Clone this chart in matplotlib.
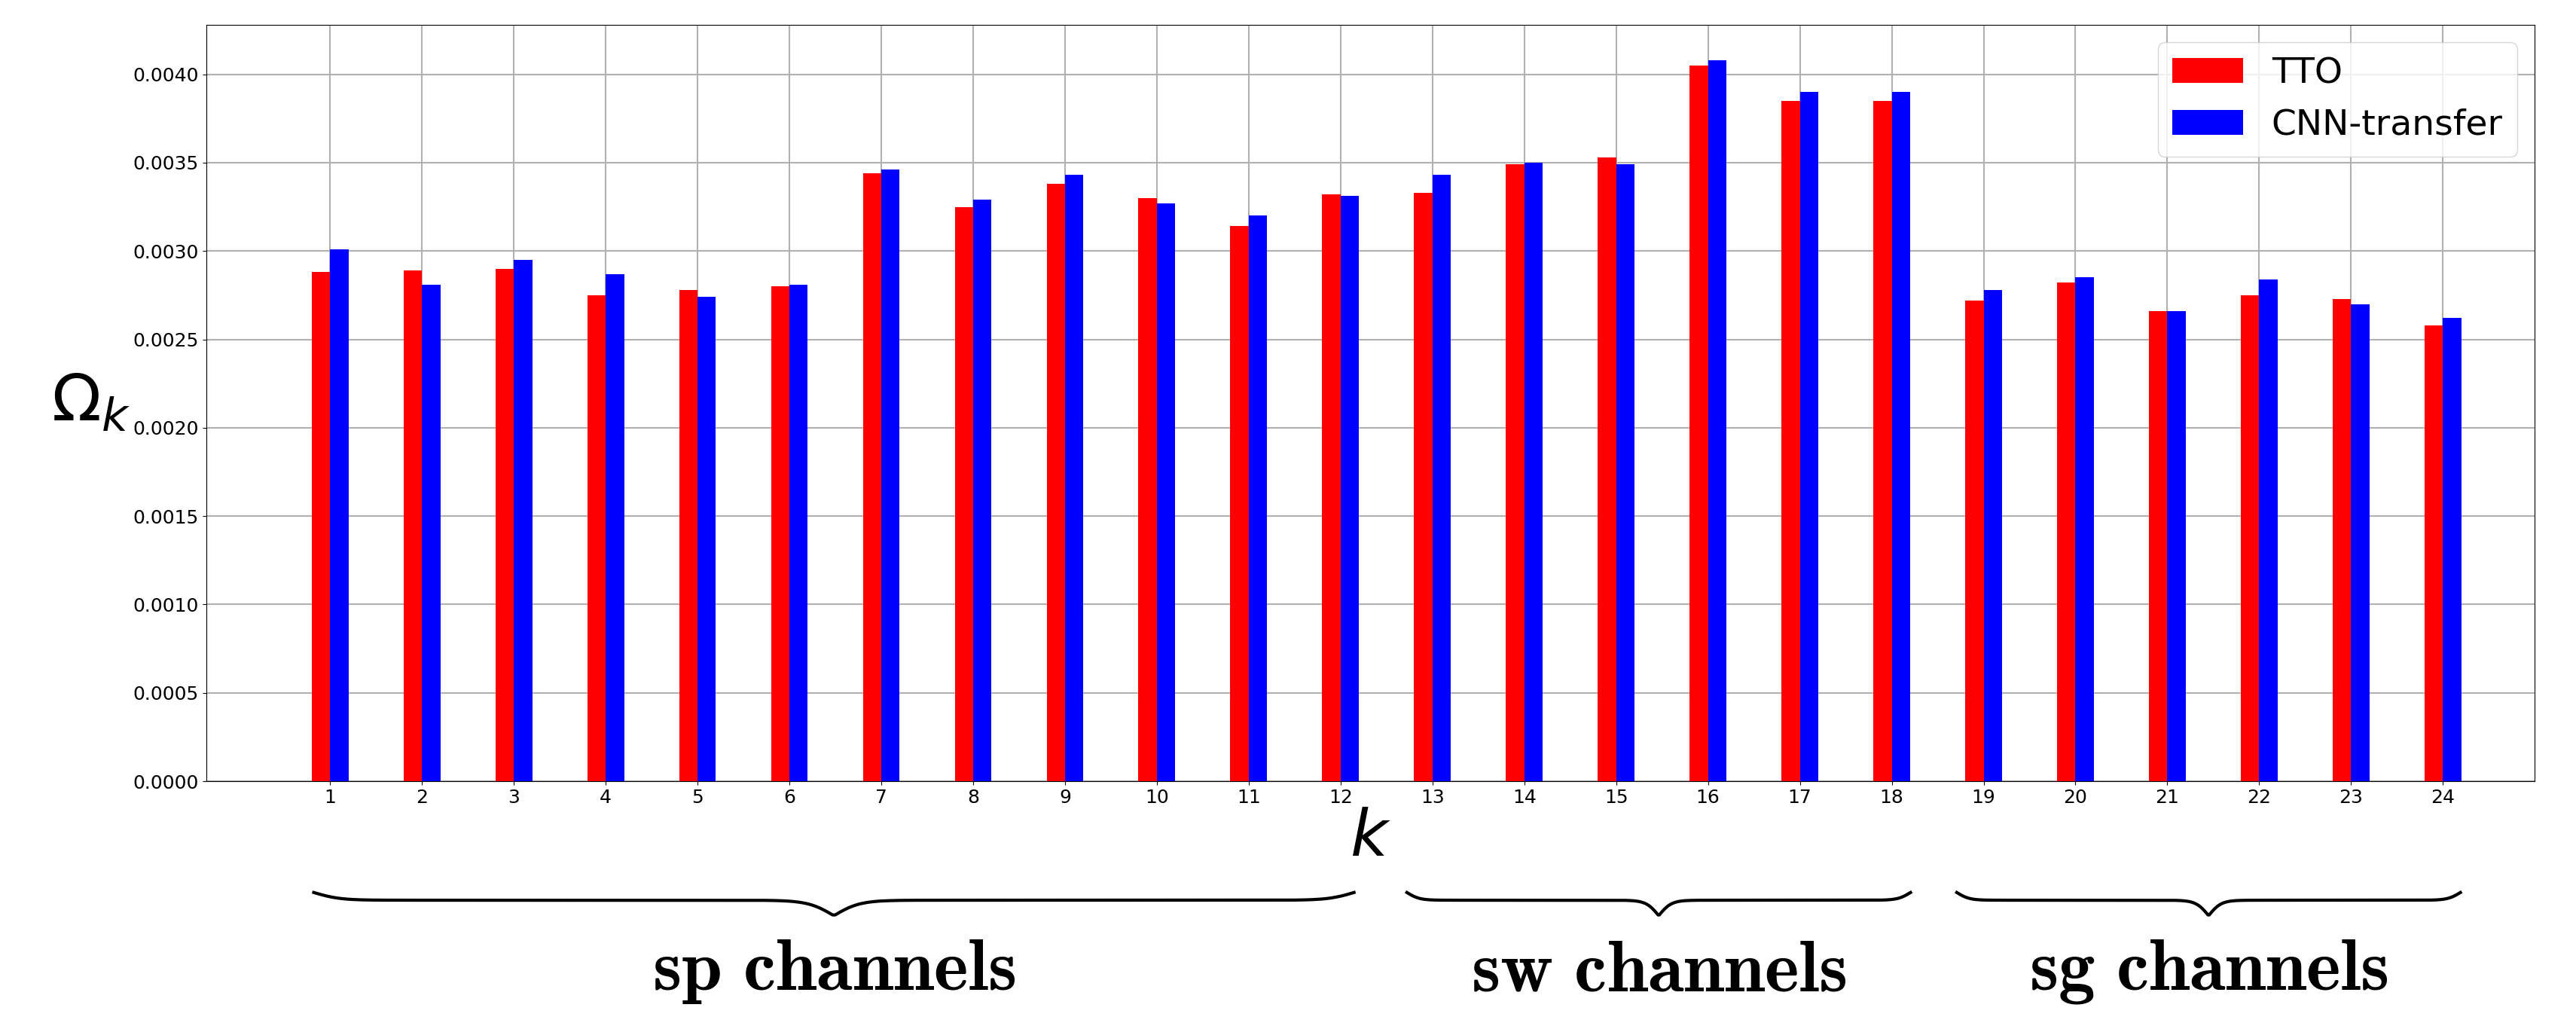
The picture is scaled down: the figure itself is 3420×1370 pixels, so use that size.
import numpy as np
import matplotlib
matplotlib.use("Agg")
import matplotlib.pyplot as plt

k = list(range(1, 25))
tto = [0.00288,0.00289,0.00290,0.00275,0.00278,0.00280,0.00344,0.00325,0.00338,0.00330,0.00314,0.00332,
       0.00333,0.00349,0.00353,0.00405,0.00385,0.00385,0.00272,0.00282,0.00266,0.00275,0.00273,0.00258]
cnn = [0.00301,0.00281,0.00295,0.00287,0.00274,0.00281,0.00346,0.00329,0.00343,0.00327,0.00320,0.00331,
       0.00343,0.00350,0.00349,0.00408,0.00390,0.00390,0.00278,0.00285,0.00266,0.00284,0.00270,0.00262]
groups = ["sp channels", "sw channels", "sg channels"]

fig = plt.figure(figsize=(34.2, 13.7), dpi=100)
ax = fig.add_axes([0.080, 0.243, 0.904, 0.733])
w = 0.2
ax.bar(np.array(k) - w/2, tto, w, color='red', label='TTO', zorder=3)
ax.bar(np.array(k) + w/2, cnn, w, color='blue', label='CNN-transfer', zorder=3)
ax.set_xticks(k)
ax.set_xlim(-0.35, 25.0)
ax.set_ylim(0, 0.00428)
ax.set_yticks(np.arange(0, 0.00401, 0.0005))
ax.yaxis.set_major_formatter(matplotlib.ticker.FormatStrFormatter('%.4f'))
ax.tick_params(labelsize=18)
ax.grid(True, color='#b0b0b0', linewidth=1.5, zorder=0)
ax.set_ylabel(r'$\Omega_k$', fontsize=62, rotation=0, labelpad=40, va='center')
ax.set_xlabel(r'$k$', fontsize=62, labelpad=0)
ax.legend(fontsize=34, loc='upper right')

def brace(x0, x1, y, h):
    t = np.linspace(0, 1, 400)
    xs = x0 + (x1 - x0) * t
    tl = t[t <= 0.5] * 2
    tr = (1 - t[t > 0.5]) * 2
    f = lambda u: 0.5 * (1 / (1 + np.exp(-u * 40)) - 0.5) + 1 / (1 + np.exp(-(u - 1) * 40))
    ys = np.concatenate([f(tl), f(tr)])
    fig.add_artist(plt.Line2D(xs, y - ys * h, transform=fig.transFigure, color='black', lw=3))

W = 1560
braces = [(190, 820), (852, 1157), (1185, 1490)]
for (a, b), g in zip(braces, groups):
    brace(a / W, b / W, 1 - 548 / 625 + 0.012, 0.03)
    fig.text((a + b) / 2 / W, 1 - 588 / 625, r'$\mathbf{%s}$' % g.replace(' ', r'\ '),
             fontsize=70, ha='center', va='center', math_fontfamily='cm')

fig.savefig('out.png')
